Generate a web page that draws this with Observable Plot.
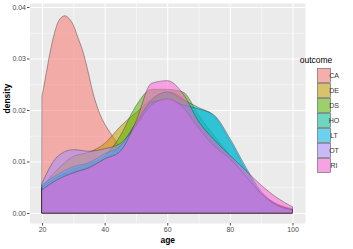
<!DOCTYPE html>
<html>
<head>
<meta charset="utf-8">
<script src="https://cdn.jsdelivr.net/npm/d3@7"></script>
<script src="https://cdn.jsdelivr.net/npm/@observablehq/plot@0.6"></script>
<style>
  html, body { margin: 0; padding: 0; background: #fff; }
  svg { font-family: "Liberation Sans", Arial, sans-serif; }
</style>
</head>
<body>
<div id="chart"></div>
<script>
const outcomes = ["CA", "DE", "DS", "HO", "LT", "OT", "RI"];
const colors = ["#F8766D", "#C49A00", "#53B400", "#00C094", "#00B6EB", "#A58AFF", "#FB61D7"];

const caAges = [20, 21, 22.5, 24, 25.5, 27.3, 29, 30, 31.5, 33, 34.5, 36, 38.5, 41, 43, 45, 50, 55, 60, 65, 70, 75, 80, 85, 90, 95, 100];
const caValues = [0.0227, 0.026, 0.031, 0.035, 0.0375, 0.0383, 0.0375, 0.0365, 0.034, 0.0315, 0.028, 0.024, 0.0192, 0.0163, 0.0145, 0.0125, 0.009, 0.0068, 0.0055, 0.0045, 0.0036, 0.0028, 0.002, 0.0014, 0.0009, 0.0005, 0.0003];

const ages = [20, 25, 30, 35, 40, 45, 50, 55, 60, 65, 70, 75, 80, 85, 90, 95, 100];
const deValues = [0.005, 0.0085, 0.011, 0.0118, 0.0135, 0.0168, 0.0195, 0.022, 0.0235, 0.0222, 0.0178, 0.0138, 0.0108, 0.007, 0.0038, 0.0018, 0.0008];
const dsValues = [0.005, 0.007, 0.0085, 0.0095, 0.011, 0.015, 0.0208, 0.024, 0.024, 0.0235, 0.019, 0.015, 0.0112, 0.0072, 0.0036, 0.0016, 0.0007];
const hoValues = [0.005, 0.007, 0.008, 0.009, 0.0105, 0.013, 0.017, 0.022, 0.0235, 0.022, 0.0205, 0.0188, 0.014, 0.0085, 0.0038, 0.0014, 0.0005];
const ltValues = [0.0055, 0.0075, 0.009, 0.0098, 0.0115, 0.013, 0.0175, 0.0215, 0.022, 0.021, 0.0202, 0.019, 0.0145, 0.009, 0.0042, 0.0016, 0.0006];
const otValues = [0.0058, 0.011, 0.0123, 0.012, 0.0125, 0.0135, 0.017, 0.021, 0.0222, 0.0205, 0.0165, 0.013, 0.0105, 0.0072, 0.0038, 0.0015, 0.0006];
const riValues = [0.0045, 0.0065, 0.0078, 0.0088, 0.0105, 0.012, 0.0178, 0.0252, 0.0257, 0.0232, 0.0178, 0.0142, 0.0112, 0.0083, 0.0054, 0.003, 0.0012];

const xTicks = [20, 40, 60, 80, 100];
const xMinor = [30, 50, 70, 90];
const yTicks = [0, 0.01, 0.02, 0.03, 0.04];
const yMinor = [0.005, 0.015, 0.025, 0.035];

const rows = [];
caAges.forEach((a, i) => rows.push({outcome: "CA", age: a, density: caValues[i]}));
const others = {DE: deValues, DS: dsValues, HO: hoValues, LT: ltValues, OT: otValues, RI: riValues};
for (const k of ["DE", "DS", "HO", "LT", "OT", "RI"]) {
  ages.forEach((a, i) => rows.push({outcome: k, age: a, density: others[k][i]}));
}

const W = 353, H = 249;
const plot = Plot.plot({
  width: W,
  height: H,
  marginLeft: 29.5,
  marginRight: 48,
  marginTop: 3,
  marginBottom: 26,
  style: {fontFamily: '"Liberation Sans", Arial, sans-serif', background: "transparent"},
  x: {domain: [16, 104]},
  y: {domain: [-0.00194, 0.04078]},
  color: {domain: outcomes, range: colors},
  marks: [
    Plot.frame({fill: "#EBEBEB", stroke: "none"}),
    Plot.ruleX(xMinor, {stroke: "#fff", strokeWidth: 0.5}),
    Plot.ruleY(yMinor, {stroke: "#fff", strokeWidth: 0.5}),
    Plot.ruleX(xTicks, {stroke: "#fff", strokeWidth: 1}),
    Plot.ruleY(yTicks, {stroke: "#fff", strokeWidth: 1}),
    Plot.areaY(rows, {x: "age", y1: 0, y2: "density", z: "outcome", fill: "outcome", fillOpacity: 0.55,
      stroke: "#333", strokeWidth: 0.5, strokeOpacity: 0.85, curve: "monotone-x"}),
    Plot.axisX({ticks: xTicks, tickSize: 2.5, tickPadding: 1.5, fontSize: 7, color: "#4D4D4D", label: null, tickFormat: d => d}),
    Plot.axisY({ticks: yTicks, tickSize: 2.5, tickPadding: 1.5, fontSize: 7, color: "#4D4D4D", label: null, tickFormat: d3.format(".2f")}),
    Plot.text(["age"], {frameAnchor: "bottom", dy: 19, fontSize: 8.5, fill: "#000", fontWeight: "bold"}),
    Plot.text(["density"], {frameAnchor: "left", dx: -23, rotate: -90, fontSize: 8.5, fill: "#000", fontWeight: "bold"})
  ]
});

// legend
const svg = d3.select(plot);
const lg = svg.append("g").attr("transform", "translate(316,0)");
lg.append("text").attr("x", 0).attr("y", 63).attr("font-size", 8.5).attr("fill", "#000").text("outcome");
outcomes.forEach((o, i) => {
  const y0 = 68 + i * 15;
  lg.append("rect").attr("x", 1).attr("y", y0).attr("width", 14).attr("height", 15).attr("fill", "#F2F2F2");
  lg.append("rect").attr("x", 1.5).attr("y", y0 + 0.5).attr("width", 13).attr("height", 14)
    .attr("fill", colors[i]).attr("fill-opacity", 0.55).attr("stroke", "#333").attr("stroke-opacity", 0.85).attr("stroke-width", 0.5);
  lg.append("text").attr("x", 18).attr("y", y0 + 7.5).attr("dy", "0.35em").attr("font-size", 7).attr("fill", "#333").text(o);
});

document.getElementById("chart").appendChild(plot);
</script>
</body>
</html>
